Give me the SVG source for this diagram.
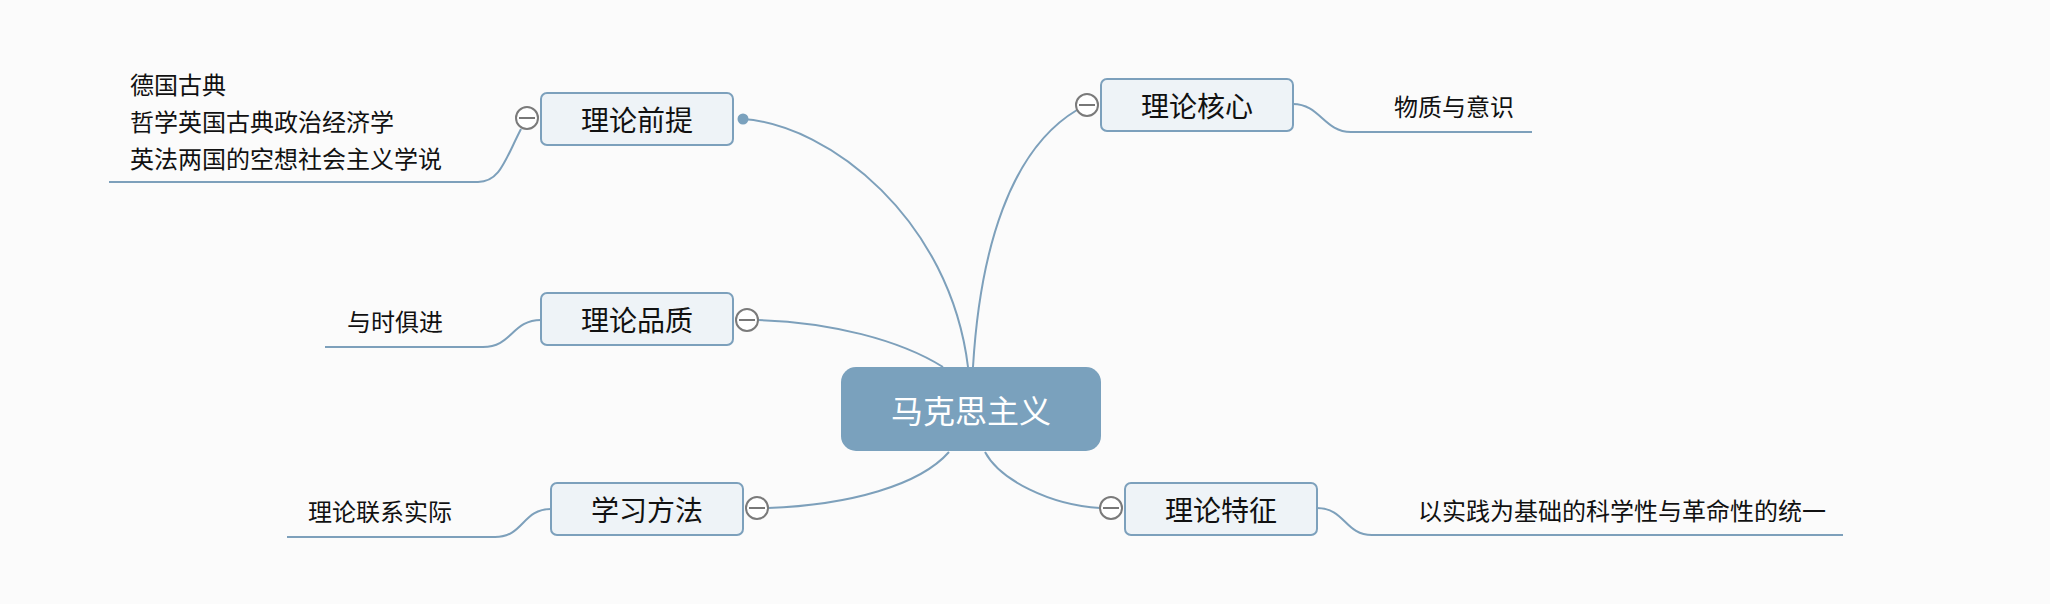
<svg xmlns="http://www.w3.org/2000/svg" width="2050" height="604" viewBox="0 0 2050 604">
<style>
.bg{fill:#fbfbfb}
.node rect{fill:#eef3f7;stroke:#7ca0bc;stroke-width:2}
.node text{font-family:"Noto Sans CJK SC","Noto Sans",sans-serif;font-size:28px;fill:#111;text-anchor:middle;dominant-baseline:central}
.root rect{fill:#7aa1bd}
.root text{font-family:"Noto Sans CJK SC","Noto Sans",sans-serif;font-size:32px;fill:#ffffff;text-anchor:middle;dominant-baseline:central}
.leaf text{font-family:"Noto Sans CJK SC","Noto Sans",sans-serif;font-size:24px;fill:#111;dominant-baseline:central}
.conn path{fill:none;stroke:#7da0bb;stroke-width:2}
.tog circle{fill:#ffffff;stroke:#7a7a7a;stroke-width:2}
.tog line{stroke:#777;stroke-width:2}
</style>
<rect class="bg" x="0" y="0" width="2050" height="604"/>
<g id="connectors" class="conn">
<path d="M743,119 C830,125 950,220 968,367"/>
<path d="M973,367 C980,250 1010,150 1077,110"/>
<path d="M758,320 C830,322 900,340 943,367"/>
<path d="M768,508 C850,505 920,485 949,452"/>
<path d="M985,452 C1000,480 1050,505 1100,508"/>
<path d="M521,129 C505,160 500,182 478,182 H109"/>
<path d="M541,320 C512,320 512,347 483,347 H325"/>
<path d="M551,509 C522,509 524,537 495,537 H287"/>
<path d="M1293,104 C1320,104 1324,132 1351,132 H1532"/>
<path d="M1317,508 C1345,508 1345,535 1372,535 H1843"/>
</g>
<g id="root" class="root">
<rect x="841" y="367" width="260" height="84" rx="15"/>
<text x="971" y="409">马克思主义</text>
</g>
<g id="n-qianti" class="node">
<rect x="541" y="93" width="192" height="52" rx="6"/>
<text x="637" y="119">理论前提</text>
</g>
<g id="n-hexin" class="node">
<rect x="1101" y="79" width="192" height="52" rx="6"/>
<text x="1197" y="105">理论核心</text>
</g>
<g id="n-pinzhi" class="node">
<rect x="541" y="293" width="192" height="52" rx="6"/>
<text x="637" y="319">理论品质</text>
</g>
<g id="n-fangfa" class="node">
<rect x="551" y="483" width="192" height="52" rx="6"/>
<text x="647" y="509">学习方法</text>
</g>
<g id="n-tezheng" class="node">
<rect x="1125" y="483" width="192" height="52" rx="6"/>
<text x="1221" y="509">理论特征</text>
</g>
<g id="toggles" class="tog">
<circle cx="527" cy="118" r="11"/><line x1="519" y1="118" x2="535" y2="118"/>
<circle cx="1087" cy="105" r="11"/><line x1="1079" y1="105" x2="1095" y2="105"/>
<circle cx="747" cy="320" r="11"/><line x1="739" y1="320" x2="755" y2="320"/>
<circle cx="757" cy="508" r="11"/><line x1="749" y1="508" x2="765" y2="508"/>
<circle cx="1111" cy="508" r="11"/><line x1="1103" y1="508" x2="1119" y2="508"/>
</g>
<circle id="dot" cx="743" cy="119" r="5.5" fill="#7aa1bd"/>
<g id="leaf-qianti" class="leaf">
<text x="130" y="83">德国古典</text>
<text x="130" y="120">哲学英国古典政治经济学</text>
<text x="130" y="157">英法两国的空想社会主义学说</text>
</g>
<g id="leaf-pinzhi" class="leaf"><text x="347" y="320">与时俱进</text></g>
<g id="leaf-fangfa" class="leaf"><text x="308" y="510">理论联系实际</text></g>
<g id="leaf-hexin" class="leaf"><text x="1394" y="105">物质与意识</text></g>
<g id="leaf-tezheng" class="leaf"><text x="1418" y="509">以实践为基础的科学性与革命性的统一</text></g>
</svg>
